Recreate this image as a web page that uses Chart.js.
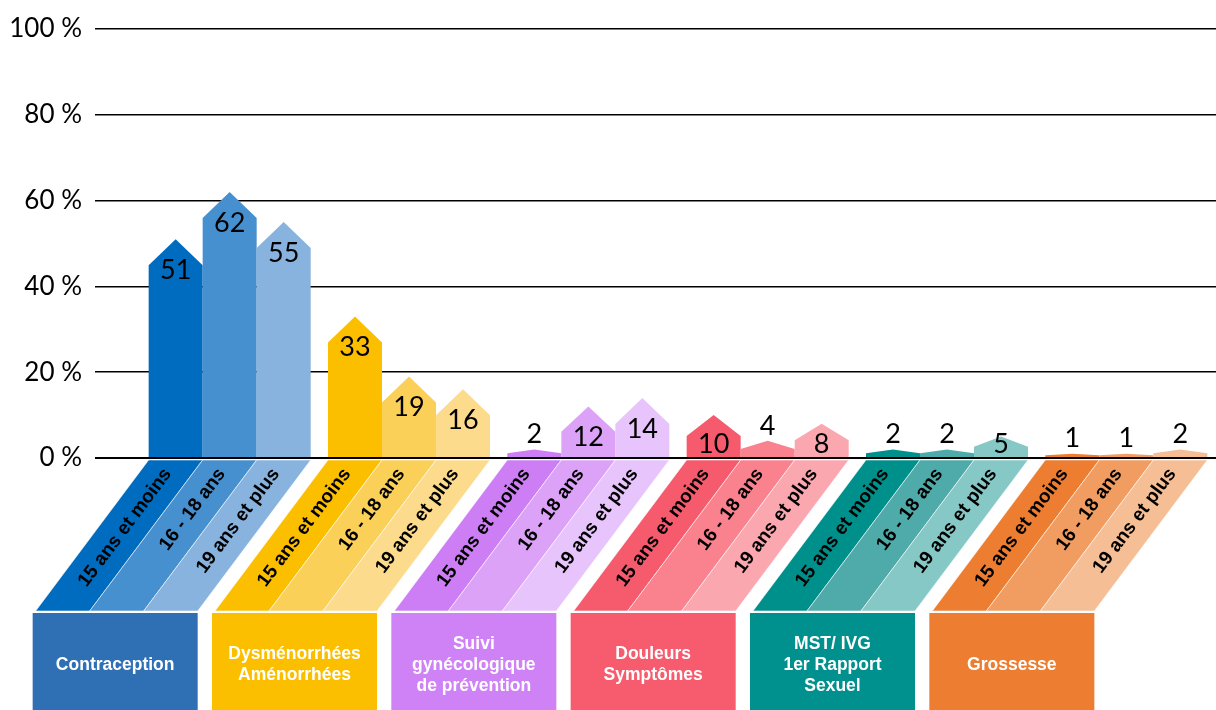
<!DOCTYPE html>
<html>
<head>
<meta charset="utf-8">
<script src="https://cdn.jsdelivr.net/npm/chart.js@4/dist/chart.umd.min.js"></script>
<style>
  html, body { margin: 0; padding: 0; background: #fff; }
  #wrap { width: 1216px; height: 710px; }
</style>
</head>
<body>
<div id="wrap"><canvas id="myChart"></canvas></div>
<script>
// ===== Data =====
const groups = ["Contraception", "Dysménorrhées Aménorrhées", "Suivi gynécologique de prévention",
                "Douleurs Symptômes", "MST/ IVG 1er Rapport Sexuel", "Grossesse"];
const groupLines = [["Contraception"], ["Dysménorrhées", "Aménorrhées"], ["Suivi", "gynécologique", "de prévention"],
                    ["Douleurs", "Symptômes"], ["MST/ IVG", "1er Rapport", "Sexuel"], ["Grossesse"]];
const ageLabels = ["15 ans et moins", "16 - 18 ans", "19 ans et plus"];
const age15 = [51, 33, 2, 10, 2, 1];
const age16 = [62, 19, 12, 4, 2, 1];
const age19 = [55, 16, 14, 8, 5, 2];
const yTicks = [0, 20, 40, 60, 80, 100];

// ===== Colours (one shade per age, per group) =====
const shade15 = ["#006cbf", "#fcbf00", "#cd7ef5", "#f65a6d", "#00908c", "#ed7d31"];
const shade16 = ["#4790d0", "#fad058", "#dba2f8", "#fa828f", "#4eaba9", "#f19d61"];
const shade19 = ["#87b3de", "#fcdb8c", "#e7c4fb", "#fba7b0", "#86c8c6", "#f5be95"];
const boxColors = ["#2f70b5", "#fbbf00", "#cf82f5", "#f65b6e", "#00918e", "#ed7d31"];

const SHIFT = 113;       // horizontal slant of the label bands
const BAND_TOP = 460, BAND_BOTTOM = 611, BOX_TOP = 613;

// ===== Plugin: house shaped bars, slanted label bands, category boxes =====
const housePlugin = {
  id: 'houses',
  beforeDatasetDraw() { return false; },          // we draw the bars ourselves
  afterDatasetsDraw(chart) {
    const ctx = chart.ctx;
    ctx.save();
    chart.data.datasets.forEach((ds, i) => {
      const meta = chart.getDatasetMeta(i);
      meta.data.forEach((el, j) => {
        const left = el.x - el.width / 2, right = el.x + el.width / 2;
        const top = el.y, base = el.base;
        const peak = Math.min(26, (base - top) / 2);
        ctx.fillStyle = ds.backgroundColor[j];
        ctx.beginPath();
        ctx.moveTo(left, base);
        ctx.lineTo(left, top + peak);
        ctx.lineTo(el.x, top);
        ctx.lineTo(right, top + peak);
        ctx.lineTo(right, base);
        ctx.closePath();
        ctx.fill();
      });
    });
    ctx.restore();
  },
  afterDraw(chart) {
    const ctx = chart.ctx;
    ctx.save();
    const angle = -Math.atan2(BAND_BOTTOM - BAND_TOP, SHIFT);

    chart.data.datasets.forEach((ds, i) => {
      const meta = chart.getDatasetMeta(i);
      meta.data.forEach((el, j) => {
        const left = el.x - el.width / 2, right = el.x + el.width / 2;
        // value label
        const v = ds.data[j];
        const top = el.y, base = el.base;
        ctx.fillStyle = '#000';
        ctx.font = '27px Lato';
        ctx.textAlign = 'center';
        ctx.textBaseline = 'middle';
        const ly = v >= 5 ? Math.min(top + 31, base - 13) : top - 15;
        ctx.fillText(String(v), el.x, ly);

        // slanted band
        ctx.fillStyle = ds.backgroundColor[j];
        ctx.beginPath();
        ctx.moveTo(left, BAND_TOP);
        ctx.lineTo(right, BAND_TOP);
        ctx.lineTo(right - SHIFT, BAND_BOTTOM);
        ctx.lineTo(left - SHIFT, BAND_BOTTOM);
        ctx.closePath();
        ctx.fill();
        ctx.strokeStyle = 'rgba(255,255,255,0.55)';
        ctx.lineWidth = 1;
        ctx.stroke();

        // age label along the band
        const f = 0.07;
        const tx = el.x - SHIFT * f, ty = BAND_TOP + (BAND_BOTTOM - BAND_TOP) * f;
        ctx.save();
        ctx.translate(tx, ty);
        ctx.rotate(angle);
        ctx.fillStyle = '#000';
        ctx.font = 'bold 19px "Liberation Sans", Arial, sans-serif';
        ctx.textAlign = 'right';
        ctx.textBaseline = 'middle';
        ctx.fillText(ds.label, 0, 0);
        ctx.restore();
      });
    });

    // category boxes
    const first = chart.getDatasetMeta(0), last = chart.getDatasetMeta(chart.data.datasets.length - 1);
    groupLines.forEach((lines, j) => {
      const a = first.data[j], b = last.data[j];
      const left = a.x - a.width / 2 - SHIFT - 3, right = b.x + b.width / 2 - SHIFT;
      ctx.fillStyle = boxColors[j];
      ctx.fillRect(left, BOX_TOP, right - left, chart.height - BOX_TOP);
      ctx.fillStyle = '#fff';
      ctx.font = 'bold 17.5px "Liberation Sans", Arial, sans-serif';
      ctx.textAlign = 'center';
      ctx.textBaseline = 'middle';
      const lh = 21, cy = 665;
      lines.forEach((t, k) => {
        ctx.fillText(t, (left + right) / 2, cy + (k - (lines.length - 1) / 2) * lh);
      });
    });
    ctx.restore();
  }
};

// ===== Chart.js Initialization =====
let ctx = document.getElementById('myChart').getContext('2d');

let chart = new Chart(ctx, {
  type: 'bar',
  data: {
    labels: groups,
    datasets: [
      { label: ageLabels[0], data: age15, backgroundColor: shade15 },
      { label: ageLabels[1], data: age16, backgroundColor: shade16 },
      { label: ageLabels[2], data: age19, backgroundColor: shade19 }
    ]
  },
  options: {
    responsive: true,
    maintainAspectRatio: false,
    animation: false,
    layout: { padding: { top: 29, right: 0, bottom: 252, left: 0 } },
    datasets: { bar: { categoryPercentage: 0.9035, barPercentage: 1 } },
    plugins: {
      legend: { display: false },
      tooltip: { enabled: false }
    },
    scales: {
      x: { display: false },
      y: {
        min: 0, max: 100,
        z: 1,
        afterFit: s => { s.width = 140; },
        afterBuildTicks: s => { s.ticks = yTicks.map(v => ({ value: v })); },
        border: { display: false },
        grid: {
          color: '#000',
          lineWidth: c => (c.tick && c.tick.value === 0 ? 2 : 1.5),
          drawTicks: true,
          tickLength: 45
        },
        ticks: {
          color: '#000',
          padding: 13,
          font: { family: 'Lato', size: 26 },
          callback: v => v + ' %'
        }
      }
    }
  },
  plugins: [housePlugin]
});
</script>
</body>
</html>
